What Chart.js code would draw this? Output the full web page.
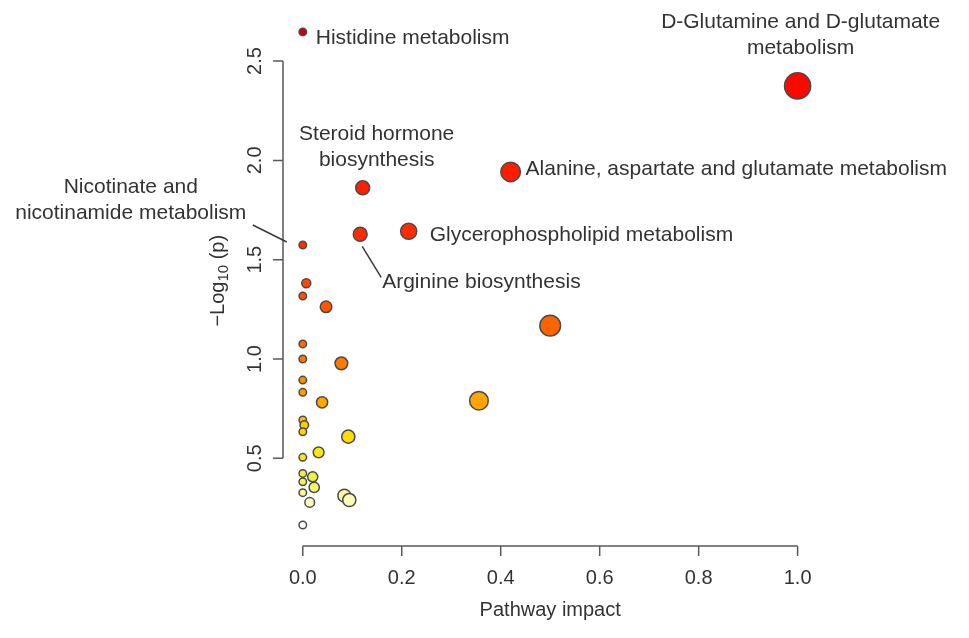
<!DOCTYPE html>
<html>
<head>
<meta charset="utf-8">
<script src="https://cdn.jsdelivr.net/npm/chart.js@4.4.1/dist/chart.umd.min.js"></script>
<style>
  html, body { margin: 0; padding: 0; background: #fff; }
  #wrap { width: 969px; height: 638px; position: relative; }
</style>
</head>
<body>
<div id="wrap"><canvas id="chart"></canvas></div>
<script>
// pathway data
const pathways = [
  'Histidine metabolism', 'D-Glutamine and D-glutamate metabolism', 'Alanine, aspartate and glutamate metabolism',
  'Steroid hormone biosynthesis', 'Arginine biosynthesis', 'Glycerophospholipid metabolism',
  'Nicotinate and nicotinamide metabolism', '', '', '', '', '', '', '', '', '', '', '', '', '', '', '', '', '', '', '', '', '', '', '', '', '', ''
];
const impact = [0, 1.0, 0.42, 0.121, 0.116, 0.214, 0, 0.007, 0, 0.047, 0.5, 0, 0, 0.078, 0, 0, 0.039, 0.356,
  0, 0.003, 0, 0.092, 0.032, 0, 0, 0.02, 0, 0.023, 0, 0.084, 0.094, 0.014, 0];
const logP = [2.647, 2.375, 1.942, 1.862, 1.628, 1.643, 1.574, 1.381, 1.317, 1.263, 1.168, 1.076, 1.0, 0.978,
  0.894, 0.832, 0.782, 0.790, 0.693, 0.668, 0.634, 0.609, 0.530, 0.505, 0.424, 0.407, 0.382, 0.354, 0.327,
  0.312, 0.290, 0.278, 0.164];
const xTicks = [0, 0.2, 0.4, 0.6, 0.8, 1.0];
const yTicks = [0.5, 1.0, 1.5, 2.0, 2.5];

const FONT = '"Liberation Sans", Arial, Helvetica, sans-serif';
const TEXT = '#333333';
const AXIS = '#5a5a5a';

// heat colours by -log10(p)
const heatStops = [
  [0.16, [255, 255, 255]], [0.29, [252, 252, 185]], [0.40, [238, 242, 60]], [0.60, [255, 222, 0]],
  [0.79, [255, 165, 0]], [1.00, [255, 118, 0]], [1.20, [255, 95, 0]], [1.60, [255, 45, 0]],
  [2.00, [255, 25, 0]], [2.40, [250, 8, 0]], [2.65, [200, 0, 20]]
];
const heat = (v) => {
  if (v <= heatStops[0][0]) return `rgb(${heatStops[0][1].join(',')})`;
  for (let i = 1; i < heatStops.length; i++) {
    const [v1, c1] = heatStops[i];
    const [v0, c0] = heatStops[i - 1];
    if (v <= v1) {
      const t = (v - v0) / (v1 - v0);
      const c = c0.map((a, k) => Math.round(a + (c1[k] - a) * t));
      return `rgb(${c.join(',')})`;
    }
  }
  return `rgb(${heatStops[heatStops.length - 1][1].join(',')})`;
};
const radius = (x) => 3.75 + 9.3 * Math.sqrt(x);

// label placement, offsets in px from the point
const labelLayout = {
  0: { dx: 13, dy: 6, align: 'left', lines: ['Histidine metabolism'] },
  1: { dx: 3, dy: -64, align: 'center', lines: ['D-Glutamine and D-glutamate', 'metabolism'] },
  2: { dx: 15, dy: -3, align: 'left', lines: ['Alanine, aspartate and glutamate metabolism'] },
  3: { dx: 14, dy: -54, align: 'center', lines: ['Steroid hormone', 'biosynthesis'] },
  4: { dx: 22, dy: 48, align: 'left', lines: ['Arginine biosynthesis'], lead: [[2, 12], [21, 43]] },
  5: { dx: 21, dy: 4, align: 'left', lines: ['Glycerophospholipid metabolism'] },
  6: { dx: -172, dy: -58, align: 'center', lines: ['Nicotinate and', 'nicotinamide metabolism'], lead: [[-50, -20], [-16, -3]] }
};

const axesPlugin = {
  id: 'rAxes',
  beforeDatasetsDraw(chart) {
    const { ctx, chartArea, scales: { x, y } } = chart;
    ctx.save();
    ctx.strokeStyle = AXIS;
    ctx.lineWidth = 1.5;
    ctx.fillStyle = TEXT;
    ctx.font = `20px ${FONT}`;

    // x axis
    const yb = chartArea.bottom;
    ctx.beginPath();
    ctx.moveTo(x.getPixelForValue(xTicks[0]), yb);
    ctx.lineTo(x.getPixelForValue(xTicks[xTicks.length - 1]), yb);
    xTicks.forEach(t => {
      const px = x.getPixelForValue(t);
      ctx.moveTo(px, yb);
      ctx.lineTo(px, yb + 10);
    });
    ctx.stroke();
    ctx.textAlign = 'center';
    ctx.textBaseline = 'middle';
    xTicks.forEach(t => ctx.fillText(t.toFixed(1), x.getPixelForValue(t), yb + 32));
    ctx.fillText('Pathway impact', (chartArea.left + chartArea.right) / 2, yb + 64);

    // y axis
    const xl = chartArea.left;
    ctx.beginPath();
    ctx.moveTo(xl, y.getPixelForValue(yTicks[0]));
    ctx.lineTo(xl, y.getPixelForValue(yTicks[yTicks.length - 1]));
    yTicks.forEach(t => {
      const py = y.getPixelForValue(t);
      ctx.moveTo(xl, py);
      ctx.lineTo(xl - 10, py);
    });
    ctx.stroke();
    yTicks.forEach(t => {
      ctx.save();
      ctx.translate(xl - 28, y.getPixelForValue(t));
      ctx.rotate(-Math.PI / 2);
      ctx.fillText(t.toFixed(1), 0, 0);
      ctx.restore();
    });

    // y title with subscript
    ctx.save();
    ctx.translate(xl - 65, (chartArea.top + chartArea.bottom) / 2);
    ctx.rotate(-Math.PI / 2);
    ctx.textAlign = 'left';
    const big = `20px ${FONT}`;
    const small = `15px ${FONT}`;
    const parts = [['\u2212Log', big, 0], ['10', small, 6], [' (p)', big, 0]];
    let total = 0;
    parts.forEach(([s, f]) => { ctx.font = f; total += ctx.measureText(s).width; });
    let cx = -total / 2;
    parts.forEach(([s, f, off]) => {
      ctx.font = f;
      ctx.fillText(s, cx, off);
      cx += ctx.measureText(s).width;
    });
    ctx.restore();
    ctx.restore();
  },
  afterDatasetsDraw(chart) {
    const { ctx, scales: { x, y } } = chart;
    ctx.save();
    ctx.fillStyle = TEXT;
    ctx.strokeStyle = '#3a3a3a';
    ctx.lineWidth = 1.5;
    ctx.font = `21px ${FONT}`;
    ctx.textBaseline = 'middle';
    Object.entries(labelLayout).forEach(([i, lab]) => {
      const px = x.getPixelForValue(impact[i]);
      const py = y.getPixelForValue(logP[i]);
      ctx.textAlign = lab.align;
      lab.lines.forEach((line, k) => ctx.fillText(line, px + lab.dx, py + lab.dy + k * 26));
      if (lab.lead) {
        ctx.beginPath();
        ctx.moveTo(px + lab.lead[0][0], py + lab.lead[0][1]);
        ctx.lineTo(px + lab.lead[1][0], py + lab.lead[1][1]);
        ctx.stroke();
      }
    });
    ctx.restore();
  }
};

const ctx = document.getElementById('chart').getContext('2d');
const chart = new Chart(ctx, {
  type: 'scatter',
  data: {
    datasets: [{
      label: 'pathways',
      data: impact.map((v, i) => ({ x: v, y: logP[i] })),
      pointRadius: impact.map(radius),
      pointBackgroundColor: logP.map(heat),
      pointBorderColor: '#4a4a4a',
      pointBorderWidth: 1.5,
      clip: false
    }]
  },
  options: {
    responsive: true,
    maintainAspectRatio: false,
    animation: false,
    layout: { padding: { left: 283, right: 151.6, top: 15.4, bottom: 91.9 } },
    scales: {
      x: { type: 'linear', display: false, min: -0.04, max: 1.04 },
      y: { type: 'linear', display: false, min: 0.058, max: 2.73 }
    },
    plugins: {
      legend: { display: false },
      tooltip: { enabled: false }
    }
  },
  plugins: [axesPlugin]
});
</script>
</body>
</html>
